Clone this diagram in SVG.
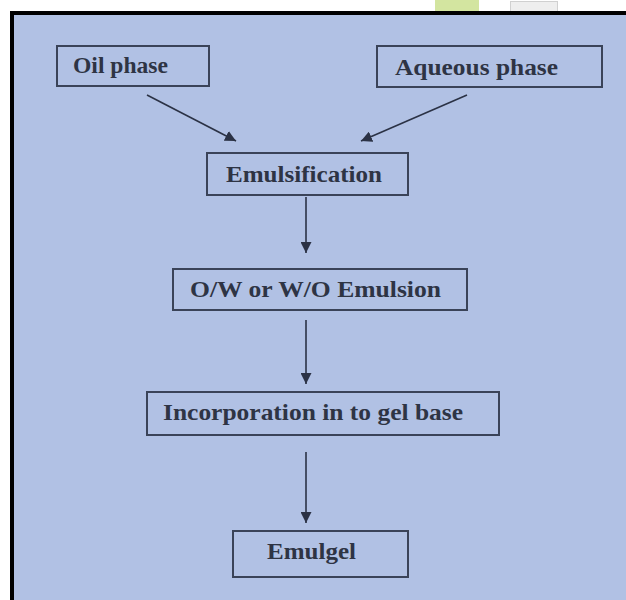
<svg xmlns="http://www.w3.org/2000/svg" width="626" height="600" viewBox="0 0 626 600">
<defs>
<marker id="ah" viewBox="0 0 10 10" refX="10" refY="5" markerWidth="11" markerHeight="11" markerUnits="userSpaceOnUse" orient="auto">
<path d="M0,0 L10,5 L0,10 Z" fill="#2b3245"/>
</marker>
<style>
.bx{fill:none;stroke:#3a4358;stroke-width:2}
.t{font-family:"Liberation Serif","Times New Roman",serif;font-weight:bold;font-size:24px;fill:#2e3444}
.c{stroke:#2b3245;stroke-width:1.6;fill:none;marker-end:url(#ah)}
</style>
</defs>
<rect x="0" y="0" width="626" height="600" fill="#ffffff"/>
<rect x="435" y="0" width="44" height="11" fill="#d3e5a0"/>
<rect x="510.5" y="1.5" width="47" height="10" fill="#eeeeee" stroke="#d0d0d0"/>
<rect x="10" y="11" width="616" height="589" fill="#000000"/>
<rect x="14" y="15" width="612" height="585" fill="#b1c1e4"/>
<g id="oil"><rect class="bx" x="57" y="46" width="152" height="40"/><text class="t" x="73" y="73" textLength="95" lengthAdjust="spacingAndGlyphs">Oil phase</text></g>
<g id="aqueous"><rect class="bx" x="377" y="46" width="225" height="41"/><text class="t" x="395" y="75" textLength="163" lengthAdjust="spacingAndGlyphs">Aqueous phase</text></g>
<g id="emulsification"><rect class="bx" x="207" y="153" width="201" height="42"/><text class="t" x="226" y="182" textLength="156" lengthAdjust="spacingAndGlyphs">Emulsification</text></g>
<g id="emulsion"><rect class="bx" x="173" y="269" width="294" height="41"/><text class="t" x="190" y="297" textLength="251" lengthAdjust="spacingAndGlyphs">O/W or W/O Emulsion</text></g>
<g id="incorporation"><rect class="bx" x="147" y="392" width="352" height="43"/><text class="t" x="163" y="420" textLength="300" lengthAdjust="spacingAndGlyphs">Incorporation in to gel base</text></g>
<g id="emulgel"><rect class="bx" x="233" y="531" width="175" height="46"/><text class="t" x="267" y="559" textLength="89" lengthAdjust="spacingAndGlyphs">Emulgel</text></g>
<g id="connectors">
<line class="c" x1="147" y1="95" x2="236" y2="141"/>
<line class="c" x1="467" y1="95" x2="361" y2="141"/>
<line class="c" x1="306" y1="197" x2="306" y2="253"/>
<line class="c" x1="306" y1="320" x2="306" y2="384"/>
<line class="c" x1="306" y1="452" x2="306" y2="523"/>
</g>
</svg>
